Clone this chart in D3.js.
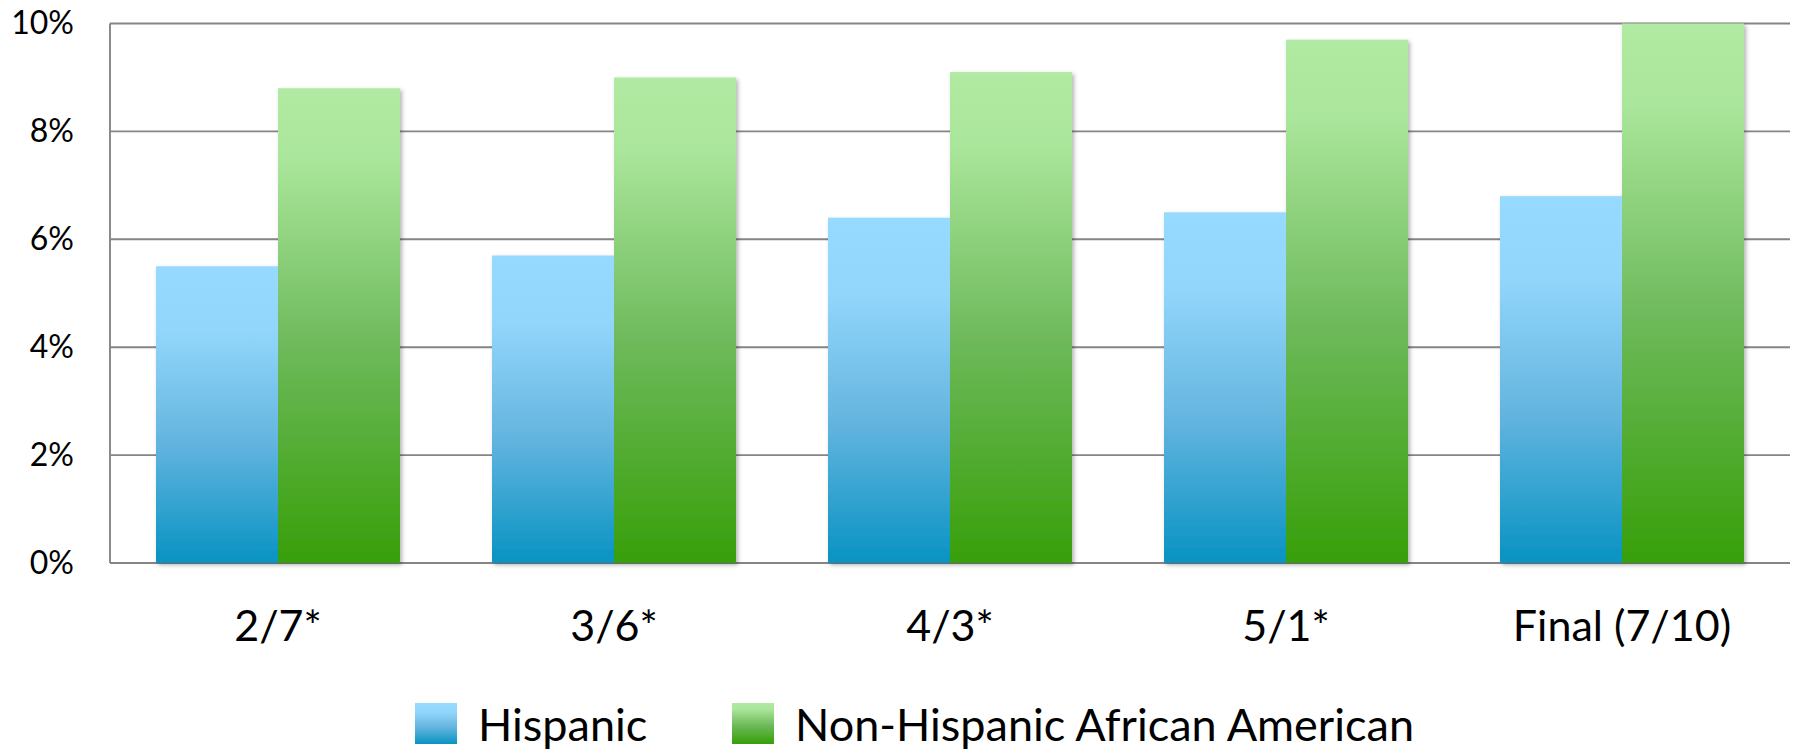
<!DOCTYPE html>
<html>
<head>
<meta charset="utf-8">
<script src="https://cdn.jsdelivr.net/npm/d3@7"></script>
<style>
  html, body { margin:0; padding:0; background:#fff; }
  svg { display:block; font-family: Lato, "Open Sans", sans-serif; }
</style>
</head>
<body>
<svg id="chart" width="1797" height="750"></svg>
<script>
// data
const categories = ['2/7*', '3/6*', '4/3*', '5/1*', 'Final (7/10)'];
const seriesNames = ['Hispanic', 'Non-Hispanic African American'];
const hispanic = [5.5, 5.7, 6.4, 6.5, 6.8];
const africanAmerican = [8.8, 9.0, 9.1, 9.7, 10.0];
const yTicks = [0, 2, 4, 6, 8, 10];

const W = 1797, H = 750;
const plot = { left: 110, right: 1790, top: 23.5, bottom: 563 };

const svg = d3.select('#chart');
const defs = svg.append('defs');

// gradients (one per series, top light -> bottom dark)
const grads = [
  { id: 'gHisp',  stops: [[0, '#97daff'], [0.22, '#93d6fb'], [0.6, '#62b4df'], [1, '#0893c2']] },
  { id: 'gAfrAm', stops: [[0, '#b1eaa2'], [0.15, '#aae69b'], [0.55, '#6db95a'], [1, '#379f09']] }
];
grads.forEach(g => {
  const lg = defs.append('linearGradient').attr('id', g.id)
      .attr('x1', 0).attr('y1', 0).attr('x2', 0).attr('y2', 1);
  g.stops.forEach(s => lg.append('stop').attr('offset', s[0]).attr('stop-color', s[1]));
});

const shadow = defs.append('filter').attr('id', 'shadow')
    .attr('x', '-10%').attr('y', '-5%').attr('width', '130%').attr('height', '115%');
shadow.append('feDropShadow').attr('dx', 2).attr('dy', 2)
    .attr('stdDeviation', 2.2).attr('flood-color', '#000').attr('flood-opacity', 0.3);

const x = d3.scaleBand().domain(categories)
    .range([plot.left, plot.right])
    .paddingInner(92 / 336).paddingOuter(46 / 336);
const xs = d3.scaleBand().domain(seriesNames).range([0, x.bandwidth()]);
const y = d3.scaleLinear().domain([0, 10]).range([plot.bottom, plot.top]);

// gridlines
svg.append('g').selectAll('line').data(yTicks).join('line')
    .attr('x1', plot.left).attr('x2', plot.right)
    .attr('y1', d => y(d)).attr('y2', d => y(d))
    .attr('stroke', '#858585').attr('stroke-width', 1.9);

// left axis line
svg.append('line')
    .attr('x1', plot.left).attr('x2', plot.left)
    .attr('y1', plot.top).attr('y2', plot.bottom)
    .attr('stroke', '#858585').attr('stroke-width', 1.9);

// y tick labels
const yAxis = svg.append('g')
    .attr('transform', `translate(${plot.left - 36},0)`)
    .call(d3.axisLeft(y).tickValues(yTicks).tickSize(0).tickPadding(0).tickFormat(d => d + '%'));
yAxis.select('.domain').remove();
yAxis.selectAll('text')
    .attr('font-size', 32).attr('fill', '#000')
    .style('font-family', 'Lato, sans-serif');

// bars
const rows = categories.map((c, i) => ({ cat: c, vals: [hispanic[i], africanAmerican[i]] }));
const gBars = svg.append('g').attr('filter', 'url(#shadow)');
rows.forEach(r => {
  r.vals.forEach((v, j) => {
    gBars.append('rect')
        .attr('x', x(r.cat) + xs(seriesNames[j]))
        .attr('y', y(v))
        .attr('width', xs.bandwidth())
        .attr('height', y(0) - y(v))
        .attr('fill', `url(#${grads[j].id})`);
  });
});

// x axis labels
const xAxis = svg.append('g')
    .attr('transform', `translate(0,${plot.bottom})`)
    .call(d3.axisBottom(x).tickSize(0).tickPadding(78));
xAxis.select('.domain').remove();
xAxis.selectAll('text')
    .attr('font-size', 43).attr('fill', '#000')
    .attr('dy', 0)
    .style('font-family', 'Lato, sans-serif');

// legend
const legend = svg.append('g');
const legendItems = [
  { name: seriesNames[0], grad: grads[0].id, x: 415 },
  { name: seriesNames[1], grad: grads[1].id, x: 732 }
];
legendItems.forEach(li => {
  legend.append('rect')
      .attr('x', li.x).attr('y', 703).attr('width', 42).attr('height', 41)
      .attr('fill', `url(#${li.grad})`);
  legend.append('text')
      .attr('x', li.x + 63).attr('y', 741)
      .attr('font-size', 45).attr('fill', '#000')
      .text(li.name);
});
</script>
</body>
</html>
